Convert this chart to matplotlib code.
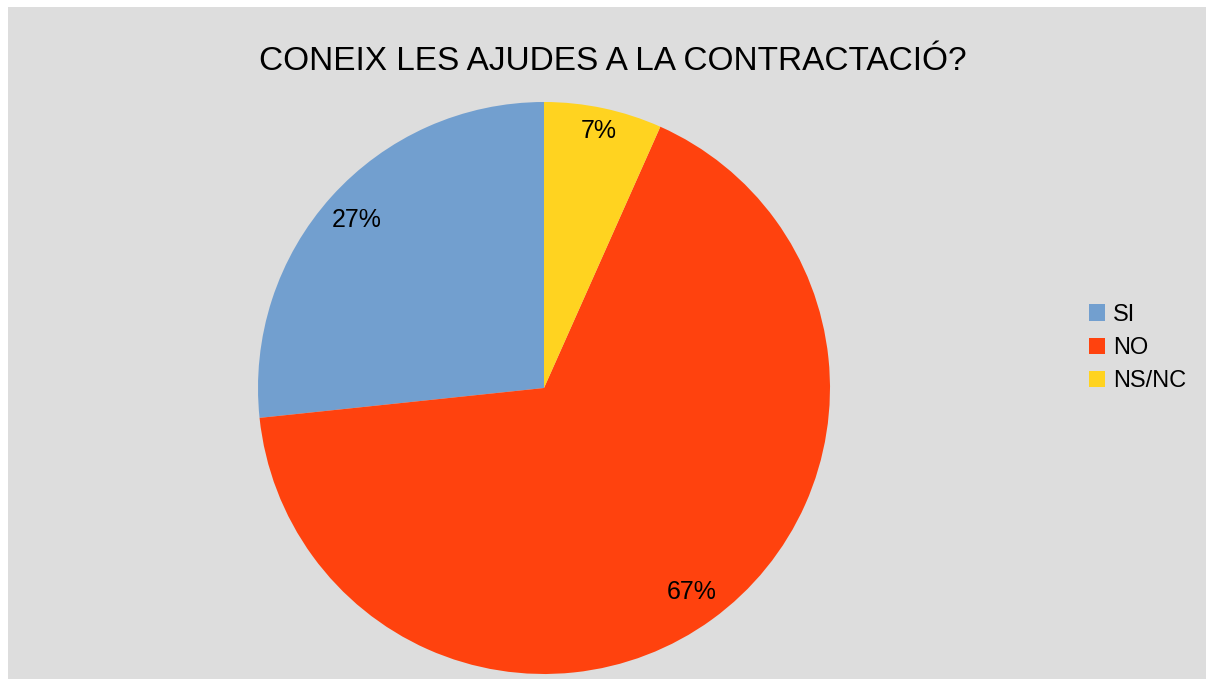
import matplotlib
matplotlib.use("Agg")
import matplotlib.pyplot as plt
from matplotlib.patches import Rectangle

# dades
labels = ["SI", "NO", "NS/NC"]
values = [4, 10, 1]
colors = ["#729fcf", "#ff420e", "#ffd320"]
title = "CONEIX LES AJUDES A LA CONTRACTACIÓ?"

plt.rcParams['font.family'] = ['Liberation Sans', 'DejaVu Sans']

W, H = 1206, 679
fig = plt.figure(figsize=(W / 100, H / 100), dpi=100, facecolor="white")

# fons gris (marge blanc a dalt i a l'esquerra)
fig.patches.append(Rectangle((8 / W, 0), 1 - 8 / W, 672 / H, transform=fig.transFigure,
                             facecolor="#dddddd", edgecolor="none", zorder=-10))

cx, cy, r = 544, 388, 286
ax = fig.add_axes([(cx - r) / W, (H - cy - r) / H, 2 * r / W, 2 * r / H])
ax.set_facecolor("none")
ax.set_zorder(5)

wedges, texts, autotexts = ax.pie(values, colors=colors, startangle=90, counterclock=True,
                                  autopct="%.0f%%", pctdistance=0.88,
                                  textprops={"fontsize": 18, "color": "black"},
                                  wedgeprops={"linewidth": 0})
# la petita una mica més cap enfora
x, y = autotexts[2].get_position()
autotexts[2].set_position((x * 0.92 / 0.88, y * 0.92 / 0.88))

ax.set_xlim(-1, 1)
ax.set_ylim(-1, 1)
ax.set_aspect("equal")
ax.axis("off")

fig.text(613 / W, 1 - 61 / H, title, ha="center", va="center", fontsize=24)

fig.legend(wedges, labels, loc="center left", bbox_to_anchor=(1089 / W, 1 - 348 / H),
           frameon=False, fontsize=17, borderpad=0, borderaxespad=0,
           handlelength=0.68, handleheight=0.68, handletextpad=0.34, labelspacing=0.48)

fig.savefig("out.png", dpi=100, facecolor=fig.get_facecolor())
